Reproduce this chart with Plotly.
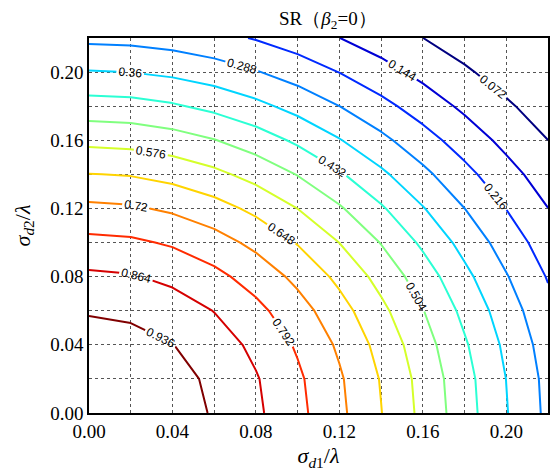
import plotly.graph_objects as go

# grid of sigma_d1/lambda (x) and sigma_d2/lambda (y)
sigma_d1 = [0.00, 0.02, 0.04, 0.06, 0.08, 0.10, 0.12, 0.14, 0.16, 0.18, 0.20, 0.22]
sigma_d2 = [0.00, 0.02, 0.04, 0.06, 0.08, 0.10, 0.12, 0.14, 0.16, 0.18, 0.20, 0.22]

# SR values (rows = sigma_d2, columns = sigma_d1)
sr = [
    [1.000, 0.992, 0.968, 0.930, 0.877, 0.811, 0.736, 0.650, 0.5575, 0.463, 0.364, 0.272],
    [0.992, 0.984, 0.960, 0.9224, 0.8696, 0.8041, 0.7292, 0.6436, 0.5517, 0.4574, 0.3592, 0.2680],
    [0.968, 0.960, 0.9375, 0.8997, 0.8472, 0.7834, 0.7088, 0.6243, 0.5347, 0.4406, 0.3452, 0.2560],
    [0.930, 0.9224, 0.8997, 0.8622, 0.811, 0.7495, 0.6758, 0.5932, 0.5067, 0.4139, 0.3226, 0.2367],
    [0.877, 0.8696, 0.8472, 0.811, 0.7629, 0.7021, 0.6307, 0.5517, 0.4684, 0.3785, 0.2926, 0.2112],
    [0.811, 0.8041, 0.7834, 0.7495, 0.7021, 0.6436, 0.5753, 0.5011, 0.4191, 0.3361, 0.2560, 0.1801],
    [0.736, 0.7292, 0.7088, 0.6758, 0.6307, 0.5753, 0.5123, 0.4406, 0.364, 0.2883, 0.2147, 0.1447],
    [0.650, 0.6436, 0.6243, 0.5932, 0.5517, 0.5011, 0.4406, 0.3737, 0.3052, 0.2367, 0.1700, 0.1083],
    [0.5575, 0.5517, 0.5347, 0.5067, 0.4684, 0.4191, 0.364, 0.3052, 0.2443, 0.1835, 0.1245, 0.0723],
    [0.463, 0.4574, 0.4406, 0.4139, 0.3785, 0.3361, 0.2883, 0.2367, 0.1835, 0.1301, 0.0811, 0.0407],
    [0.364, 0.3592, 0.3452, 0.3226, 0.2926, 0.2560, 0.2147, 0.1700, 0.1245, 0.0811, 0.0440, 0.0166],
    [0.272, 0.2680, 0.2560, 0.2367, 0.2112, 0.1801, 0.1447, 0.1083, 0.0723, 0.0407, 0.0166, 0.006],
]

level_start = 0.072
level_end = 0.936
level_step = 0.072

tick_vals = [0.00, 0.04, 0.08, 0.12, 0.16, 0.20]
tick_text = ["0.00", "0.04", "0.08", "0.12", "0.16", "0.20"]

jet = [
    [0.0, "rgb(0,0,128)"],
    [0.125, "rgb(0,0,255)"],
    [0.375, "rgb(0,255,255)"],
    [0.625, "rgb(255,255,0)"],
    [0.875, "rgb(255,0,0)"],
    [1.0, "rgb(128,0,0)"],
]

SERIF = "Liberation Serif, Times New Roman, serif"

fig = go.Figure(
    go.Contour(
        x=sigma_d1,
        y=sigma_d2,
        z=sr,
        autocontour=False,
        contours=dict(
            start=level_start,
            end=level_end,
            size=level_step,
            coloring="lines",
            showlabels=True,
            labelfont=dict(family="Liberation Sans, Arial", size=12, color="black"),
            labelformat=".3~f",
        ),
        line=dict(width=2, smoothing=0),
        colorscale=jet,
        zauto=False,
        zmin=level_start,
        zmax=level_end,
        showscale=False,
        hoverinfo="skip",
    )
)

axis_common = dict(
    range=[0, 0.22],
    tickvals=tick_vals,
    ticktext=tick_text,
    showgrid=True,
    gridcolor="#555555",
    griddash="dot",
    gridwidth=1,
    minor=dict(dtick=0.02, tick0=0, showgrid=True, gridcolor="#555555", griddash="dot", gridwidth=1),
    showline=True,
    linecolor="black",
    linewidth=1.5,
    mirror=True,
    zeroline=False,
    ticks="",
    tickfont=dict(family=SERIF, size=19, color="black"),
)

fig.update_layout(
    width=551,
    height=471,
    margin=dict(l=89, r=1, t=38, b=58),
    paper_bgcolor="white",
    plot_bgcolor="white",
    title=dict(
        text="SR（<i>β</i><sub>2</sub>=0）",
        x=0.595,
        xanchor="center",
        y=0.96,
        yanchor="middle",
        font=dict(family=SERIF, size=19, color="black"),
    ),
    xaxis=dict(
        axis_common,
        title=dict(
            text="<i>σ</i><sub><i>d</i>1</sub>/<i>λ</i>",
            font=dict(family=SERIF, size=22, color="black"),
            standoff=8,
        ),
    ),
    yaxis=dict(
        axis_common,
        title=dict(
            text="<i>σ</i><sub><i>d</i>2</sub>/<i>λ</i>",
            font=dict(family=SERIF, size=22, color="black"),
            standoff=14,
        ),
    ),
    showlegend=False,
)

fig.write_html("out.html")
